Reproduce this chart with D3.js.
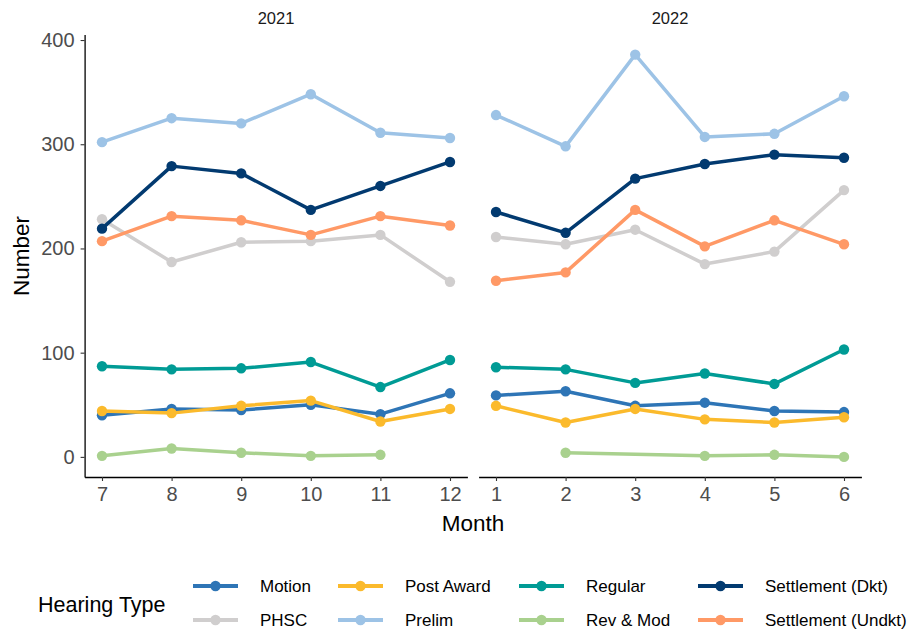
<!DOCTYPE html>
<html><head><meta charset="utf-8">
<script src="https://cdn.jsdelivr.net/npm/d3@7/dist/d3.min.js"></script>
<style>body{margin:0;background:#fff}svg{display:block;font-family:"Liberation Sans",Arial,sans-serif}</style>
</head><body>
<script>
// Data (Jul 2021 .. Jun 2022)
const years = ["2021", "2022"];
const months2021 = [7, 8, 9, 10, 11, 12];
const months2022 = [1, 2, 3, 4, 5, 6];
const yTicks = [0, 100, 200, 300, 400];
const types = ["Motion", "PHSC", "Post Award", "Prelim", "Regular", "Rev & Mod", "Settlement (Dkt)", "Settlement (Undkt)"];
const colors = ["#2E75B6", "#D0CECE", "#FBBA2C", "#9DC3E6", "#009B95", "#A9D18E", "#023A70", "#FF9966"];
const motion     = [40, 46, 45, 50, 41, 61,   59, 63, 49, 52, 44, 43];
const phsc       = [228, 187, 206, 207, 213, 168,   211, 204, 218, 185, 197, 256];
const postAward  = [44, 42, 49, 54, 34, 46,   49, 33, 46, 36, 33, 38];
const prelim     = [302, 325, 320, 348, 311, 306,   328, 298, 386, 307, 310, 346];
const regular    = [87, 84, 85, 91, 67, 93,   86, 84, 71, 80, 70, 103];
const revMod     = [1, 8, 4, 1, 2, null,   null, 4, null, 1, 2, 0];
const settleDkt  = [219, 279, 272, 237, 260, 283,   235, 215, 267, 281, 290, 287];
const settleUndkt= [207, 231, 227, 213, 231, 222,   169, 177, 237, 202, 227, 204];
const seriesValues = [motion, phsc, postAward, prelim, regular, revMod, settleDkt, settleUndkt];

const W = 910, H = 633;
const svg = d3.select("body").append("svg").attr("width", W).attr("height", H);

const y = d3.scaleLinear().domain([-19.3, 405.3]).range([477, 34.5]);
const panels = [
  {year: years[0], months: months2021, offset: 0, x: d3.scaleLinear().domain([6.75, 12.25]).range([84.6, 467.4])},
  {year: years[1], months: months2022, offset: 6, x: d3.scaleLinear().domain([0.75, 6.25]).range([478.6, 861.4])}
];

panels.forEach((p, pi) => {
  const [x0, x1] = p.x.range();
  // strip label
  svg.append("text").attr("x", (x0 + x1) / 2).attr("y", 24).attr("text-anchor", "middle")
    .attr("font-size", 16.5).attr("fill", "#1a1a1a").text(p.year);
  // x axis
  const gx = svg.append("g").attr("transform", "translate(0,477)")
    .call(d3.axisBottom(p.x).tickValues(p.months).tickFormat(d3.format("d")).tickSize(4).tickSizeOuter(0).tickPadding(6));
  gx.select(".domain").attr("stroke", "#000").attr("stroke-width", 1.3);
  gx.selectAll(".tick line").attr("stroke", "#333").attr("stroke-width", 1.1);
  gx.selectAll(".tick text").attr("font-size", 20).attr("fill", "#4d4d4d").attr("font-family", "Liberation Sans, Arial, sans-serif");
  if (pi === 0) {
    const gy = svg.append("g").attr("transform", `translate(${x0},0)`)
      .call(d3.axisLeft(y).tickValues(yTicks).tickSize(4).tickSizeOuter(0).tickPadding(6));
    gy.select(".domain").attr("stroke", "#000").attr("stroke-width", 1.3);
    gy.selectAll(".tick line").attr("stroke", "#333").attr("stroke-width", 1.1);
    gy.selectAll(".tick text").attr("font-size", 20).attr("fill", "#4d4d4d").attr("font-family", "Liberation Sans, Arial, sans-serif");
  }
  // series
  seriesValues.forEach((vals, si) => {
    const pts = p.months.map((m, i) => ({m, v: vals[p.offset + i]})).filter(d => d.v !== null);
    const line = d3.line().x(d => p.x(d.m)).y(d => y(d.v));
    svg.append("path").datum(pts).attr("d", line).attr("fill", "none")
      .attr("stroke", colors[si]).attr("stroke-width", 3.5).attr("stroke-linejoin", "round");
    svg.append("g").selectAll("circle").data(pts).join("circle")
      .attr("cx", d => p.x(d.m)).attr("cy", d => y(d.v)).attr("r", 5.2).attr("fill", colors[si]);
  });
});

// axis titles
svg.append("text").attr("x", 473).attr("y", 531).attr("text-anchor", "middle")
  .attr("font-size", 22.5).attr("fill", "#000").text("Month");
svg.append("text").attr("transform", "translate(29,256) rotate(-90)").attr("text-anchor", "middle")
  .attr("font-size", 22.5).attr("fill", "#000").text("Number");

// legend
svg.append("text").attr("x", 38).attr("y", 612).attr("font-size", 21.5).attr("fill", "#000").text("Hearing Type");
const colX = [193, 338, 519, 698];
const rowY = [586, 620];
types.forEach((t, i) => {
  const c = Math.floor(i / 2), r = i % 2;
  const g = svg.append("g").attr("transform", `translate(${colX[c]},${rowY[r]})`);
  g.append("line").attr("x1", 0).attr("x2", 45).attr("y1", 0).attr("y2", 0)
    .attr("stroke", colors[i]).attr("stroke-width", 4);
  g.append("circle").attr("cx", 22.5).attr("cy", 0).attr("r", 5.2).attr("fill", colors[i]);
  g.append("text").attr("x", 67).attr("y", 0).attr("dy", "0.35em").attr("font-size", 17).attr("fill", "#000").text(t);
});
</script>
</body></html>
